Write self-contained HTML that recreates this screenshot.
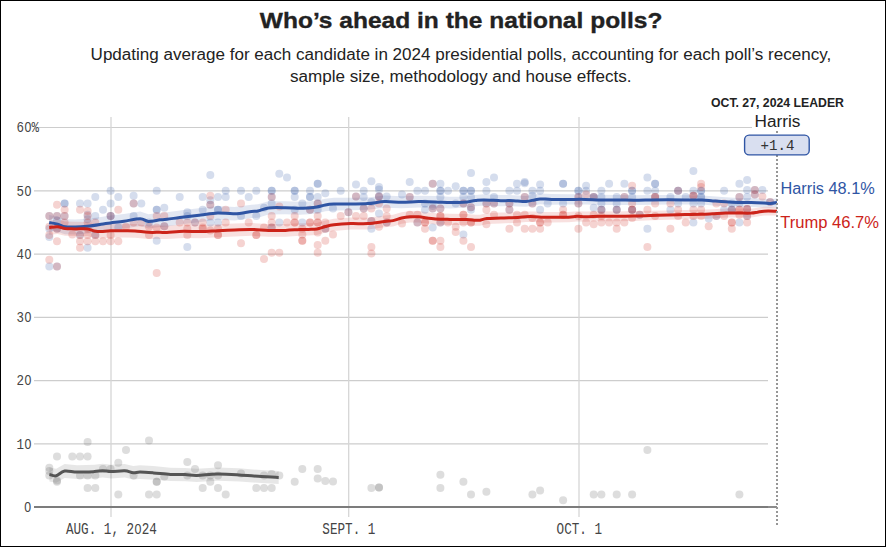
<!DOCTYPE html>
<html lang="en"><head><meta charset="utf-8"><title>Who's ahead in the national polls?</title>
<style>
html,body{margin:0;padding:0;background:#fff;}
body{width:886px;height:547px;overflow:hidden;position:relative;}
svg{position:absolute;left:0;top:0;display:block;}
.frame{position:absolute;left:0;top:0;width:884px;height:545px;border:1px solid #000;pointer-events:none;}
text{font-family:"Liberation Sans",Arial,sans-serif;}
.mono{font-family:"Liberation Mono","DejaVu Sans Mono",monospace;fill:#444;}
</style></head><body>
<svg width="886" height="547" viewBox="0 0 886 547">

<text x="259.8" y="27.8" font-size="22.6" font-weight="700" fill="#222" stroke="#222" stroke-width="0.35" textLength="402.6" lengthAdjust="spacingAndGlyphs">Who’s ahead in the national polls?</text>
<text x="90.6" y="60" font-size="16" fill="#222" textLength="740.6" lengthAdjust="spacingAndGlyphs">Updating average for each candidate in 2024 presidential polls, accounting for each poll’s recency,</text>
<text x="289.9" y="81.5" font-size="16" fill="#222" textLength="341.6" lengthAdjust="spacingAndGlyphs">sample size, methodology and house effects.</text>
<g stroke="#cdcdcd" stroke-width="1.1" fill="none">
<line x1="34" x2="768" y1="443.85" y2="443.85"/>
<line x1="34" x2="768" y1="380.60" y2="380.60"/>
<line x1="34" x2="768" y1="317.35" y2="317.35"/>
<line x1="34" x2="768" y1="254.10" y2="254.10"/>
<line x1="34" x2="768" y1="190.85" y2="190.85"/>
<line x1="39" x2="752" y1="127.5" y2="127.5"/>
</g><g stroke="#d6d6d6" stroke-width="1.3" fill="none">
<line x1="111" x2="111" y1="117" y2="517"/>
<line x1="348.7" x2="348.7" y1="117" y2="517"/>
<line x1="579" x2="579" y1="117" y2="517"/>
</g>
<path d="M49.4,467.4 L56.2,468.8 L64.6,464.0 L77.3,465.2 L94.3,464.7 L102.7,463.8 L111.2,464.7 L124.7,463.9 L133.2,465.9 L140.0,465.3 L153.5,466.1 L170.4,467.7 L185.0,467.9 L196.9,468.7 L217.2,467.5 L239.3,468.3 L261.3,470.1 L278.7,471.0 L278.7,484.0 L261.3,483.1 L239.3,481.5 L217.2,480.7 L196.9,482.1 L185.0,481.3 L170.4,481.1 L153.5,479.7 L140.0,478.9 L133.2,479.5 L124.7,477.5 L111.2,478.5 L102.7,477.6 L94.3,478.5 L77.3,479.0 L64.6,478.0 L56.2,482.8 L49.4,481.4Z" fill="#000" fill-opacity="0.095"/>
<path d="M49.2,214.9 L57.6,216.5 L65.0,219.3 L75.2,219.5 L87.4,218.8 L101.0,216.9 L110.4,215.6 L124.0,213.9 L140.2,211.5 L148.4,214.2 L160.0,212.7 L166.9,212.2 L183.9,210.0 L200.8,208.1 L217.7,206.1 L234.6,207.0 L251.6,204.7 L258.0,204.3 L268.5,201.3 L285.4,201.2 L300.0,201.8 L308.5,201.5 L316.9,200.6 L325.4,198.7 L333.9,197.8 L350.8,197.8 L367.7,197.4 L384.6,195.5 L401.6,196.3 L418.5,195.7 L435.4,196.1 L450.0,196.8 L458.5,196.7 L466.9,196.2 L475.4,194.9 L483.9,194.3 L500.8,195.1 L509.0,195.1 L517.7,195.6 L526.0,196.0 L534.6,194.5 L540.0,193.5 L551.6,194.1 L568.5,194.2 L585.4,194.2 L600.0,194.8 L617.0,194.9 L634.0,195.3 L651.0,195.0 L668.0,194.9 L685.0,195.2 L702.0,195.4 L712.8,196.3 L725.6,197.3 L738.4,197.9 L751.2,198.1 L764.0,198.7 L770.4,199.2 L777.0,198.3 L777.0,206.9 L770.4,207.8 L764.0,207.5 L751.2,206.9 L738.4,206.9 L725.6,206.3 L712.8,205.5 L702.0,204.6 L685.0,204.6 L668.0,204.5 L651.0,204.8 L634.0,205.1 L617.0,204.9 L600.0,205.0 L585.4,204.6 L568.5,204.6 L551.6,204.7 L540.0,204.3 L534.6,205.3 L526.0,206.8 L517.7,206.6 L509.0,206.1 L500.8,206.3 L483.9,205.5 L475.4,206.3 L466.9,207.6 L458.5,208.1 L450.0,208.4 L435.4,207.7 L418.5,207.5 L401.6,208.3 L384.6,207.7 L367.7,209.8 L350.8,210.2 L333.9,210.4 L325.4,211.3 L316.9,213.4 L308.5,214.3 L300.0,214.8 L285.4,214.2 L268.5,214.5 L258.0,217.7 L251.6,218.1 L234.6,220.6 L217.7,219.7 L200.8,221.9 L183.9,224.0 L166.9,226.4 L160.0,226.9 L148.4,228.6 L140.2,225.9 L124.0,228.5 L110.4,230.2 L101.0,231.7 L87.4,233.6 L75.2,234.5 L65.0,234.3 L57.6,231.7 L49.2,230.1Z" fill="#2f55a4" fill-opacity="0.14"/>
<path d="M49.2,220.3 L57.6,219.6 L65.0,221.5 L75.0,221.8 L87.4,221.9 L94.2,223.9 L101.0,224.5 L110.4,223.8 L124.0,223.8 L135.0,224.0 L148.4,225.5 L160.0,225.5 L166.9,225.7 L183.9,224.5 L200.8,225.0 L217.7,224.2 L234.6,223.4 L251.6,223.0 L268.5,224.1 L285.4,224.1 L300.0,223.3 L308.5,223.2 L316.9,222.9 L325.4,220.4 L333.9,218.7 L350.8,217.6 L367.7,217.7 L384.6,215.5 L393.0,214.8 L401.6,212.2 L410.0,211.0 L418.5,211.1 L435.4,213.2 L450.0,213.8 L466.9,213.9 L475.4,214.7 L480.0,214.7 L487.0,213.0 L500.8,212.6 L517.7,212.2 L526.0,211.4 L534.6,211.4 L543.0,212.0 L551.6,212.0 L568.5,212.1 L577.0,211.2 L585.4,211.6 L600.0,211.3 L617.0,211.4 L634.0,211.1 L651.0,210.7 L668.0,210.4 L685.0,209.9 L702.0,209.7 L712.8,209.2 L725.6,208.6 L738.4,208.6 L751.2,208.7 L757.6,207.8 L764.0,206.8 L777.0,206.9 L777.0,215.5 L764.0,215.6 L757.6,216.6 L751.2,217.5 L738.4,217.6 L725.6,217.6 L712.8,218.4 L702.0,218.9 L685.0,219.3 L668.0,219.8 L651.0,220.3 L634.0,220.9 L617.0,221.2 L600.0,221.3 L585.4,221.8 L577.0,221.4 L568.5,222.3 L551.6,222.4 L543.0,222.4 L534.6,222.0 L526.0,222.0 L517.7,222.8 L500.8,223.4 L487.0,224.0 L480.0,225.7 L475.4,225.7 L466.9,224.9 L450.0,225.0 L435.4,224.6 L418.5,222.5 L410.0,222.6 L401.6,223.8 L393.0,226.4 L384.6,227.3 L367.7,229.5 L350.8,229.6 L333.9,230.9 L325.4,232.6 L316.9,235.1 L308.5,235.6 L300.0,235.7 L285.4,236.7 L268.5,236.7 L251.6,235.8 L234.6,236.4 L217.7,237.2 L200.8,238.2 L183.9,237.9 L166.9,239.1 L160.0,239.1 L148.4,239.1 L135.0,237.8 L124.0,237.6 L110.4,237.8 L101.0,238.5 L94.2,237.9 L87.4,235.9 L75.0,236.0 L65.0,235.7 L57.6,234.0 L49.2,234.7Z" fill="#cc2319" fill-opacity="0.14"/>
<g fill="#777" fill-opacity="0.25">
<circle cx="49.3" cy="467.8" r="4"/>
<circle cx="49.3" cy="470.9" r="4"/>
<circle cx="49.3" cy="475.4" r="4"/>
<circle cx="57.0" cy="456.4" r="4"/>
<circle cx="57.0" cy="480.4" r="4"/>
<circle cx="57.0" cy="481.7" r="4"/>
<circle cx="72.3" cy="456.4" r="4"/>
<circle cx="80.0" cy="456.4" r="4"/>
<circle cx="80.0" cy="475.4" r="4"/>
<circle cx="87.6" cy="441.9" r="4"/>
<circle cx="87.6" cy="456.4" r="4"/>
<circle cx="87.6" cy="475.4" r="4"/>
<circle cx="87.6" cy="488.0" r="4"/>
<circle cx="95.3" cy="475.4" r="4"/>
<circle cx="95.3" cy="488.0" r="4"/>
<circle cx="103.0" cy="469.1" r="4"/>
<circle cx="110.6" cy="469.1" r="4"/>
<circle cx="118.3" cy="462.7" r="4"/>
<circle cx="118.3" cy="494.4" r="4"/>
<circle cx="126.0" cy="450.1" r="4"/>
<circle cx="133.6" cy="475.4" r="4"/>
<circle cx="149.0" cy="440.6" r="4"/>
<circle cx="149.0" cy="494.4" r="4"/>
<circle cx="156.7" cy="481.7" r="4"/>
<circle cx="156.7" cy="481.7" r="4"/>
<circle cx="156.7" cy="494.4" r="4"/>
<circle cx="164.3" cy="476.6" r="4"/>
<circle cx="187.3" cy="462.1" r="4"/>
<circle cx="187.3" cy="475.4" r="4"/>
<circle cx="195.0" cy="469.1" r="4"/>
<circle cx="202.7" cy="475.4" r="4"/>
<circle cx="202.7" cy="488.0" r="4"/>
<circle cx="210.3" cy="475.4" r="4"/>
<circle cx="210.3" cy="481.7" r="4"/>
<circle cx="218.0" cy="465.3" r="4"/>
<circle cx="218.0" cy="475.4" r="4"/>
<circle cx="218.0" cy="488.0" r="4"/>
<circle cx="225.7" cy="494.4" r="4"/>
<circle cx="241.0" cy="473.5" r="4"/>
<circle cx="256.3" cy="488.0" r="4"/>
<circle cx="264.0" cy="475.4" r="4"/>
<circle cx="264.0" cy="488.0" r="4"/>
<circle cx="271.7" cy="474.1" r="4"/>
<circle cx="271.7" cy="488.0" r="4"/>
<circle cx="279.3" cy="475.4" r="4"/>
<circle cx="294.7" cy="481.7" r="4"/>
<circle cx="302.3" cy="469.1" r="4"/>
<circle cx="317.7" cy="469.1" r="4"/>
<circle cx="317.7" cy="478.5" r="4"/>
<circle cx="325.3" cy="481.1" r="4"/>
<circle cx="333.0" cy="481.4" r="4"/>
<circle cx="371.4" cy="488.0" r="4"/>
<circle cx="379.0" cy="487.4" r="4"/>
<circle cx="379.0" cy="487.4" r="4"/>
<circle cx="440.4" cy="474.7" r="4"/>
<circle cx="440.4" cy="488.0" r="4"/>
<circle cx="463.4" cy="481.7" r="4"/>
<circle cx="471.0" cy="494.4" r="4"/>
<circle cx="486.4" cy="491.8" r="4"/>
<circle cx="532.4" cy="494.4" r="4"/>
<circle cx="540.1" cy="490.6" r="4"/>
<circle cx="563.1" cy="500.3" r="4"/>
<circle cx="593.7" cy="494.4" r="4"/>
<circle cx="601.4" cy="494.4" r="4"/>
<circle cx="616.7" cy="494.4" r="4"/>
<circle cx="632.1" cy="494.4" r="4"/>
<circle cx="647.4" cy="450.1" r="4"/>
<circle cx="739.4" cy="494.4" r="4"/>
</g>
<g fill="#2f55a4" fill-opacity="0.2">
<circle cx="49.3" cy="216.1" r="4"/>
<circle cx="49.3" cy="228.7" r="4"/>
<circle cx="49.3" cy="236.9" r="4"/>
<circle cx="49.3" cy="266.6" r="4"/>
<circle cx="57.0" cy="216.1" r="4"/>
<circle cx="57.0" cy="220.5" r="4"/>
<circle cx="57.0" cy="228.7" r="4"/>
<circle cx="57.0" cy="266.6" r="4"/>
<circle cx="64.6" cy="203.4" r="4"/>
<circle cx="64.6" cy="203.4" r="4"/>
<circle cx="64.6" cy="216.1" r="4"/>
<circle cx="80.0" cy="203.4" r="4"/>
<circle cx="80.0" cy="235.0" r="4"/>
<circle cx="87.6" cy="203.4" r="4"/>
<circle cx="87.6" cy="214.8" r="4"/>
<circle cx="87.6" cy="219.2" r="4"/>
<circle cx="87.6" cy="247.7" r="4"/>
<circle cx="95.3" cy="197.1" r="4"/>
<circle cx="95.3" cy="216.1" r="4"/>
<circle cx="95.3" cy="235.0" r="4"/>
<circle cx="103.0" cy="209.7" r="4"/>
<circle cx="110.6" cy="190.8" r="4"/>
<circle cx="110.6" cy="203.4" r="4"/>
<circle cx="110.6" cy="216.1" r="4"/>
<circle cx="110.6" cy="216.1" r="4"/>
<circle cx="118.3" cy="197.1" r="4"/>
<circle cx="118.3" cy="227.4" r="4"/>
<circle cx="133.6" cy="195.8" r="4"/>
<circle cx="133.6" cy="203.4" r="4"/>
<circle cx="133.6" cy="216.1" r="4"/>
<circle cx="141.3" cy="203.4" r="4"/>
<circle cx="149.0" cy="222.4" r="4"/>
<circle cx="156.7" cy="190.8" r="4"/>
<circle cx="156.7" cy="209.7" r="4"/>
<circle cx="156.7" cy="209.7" r="4"/>
<circle cx="156.7" cy="240.7" r="4"/>
<circle cx="164.3" cy="207.8" r="4"/>
<circle cx="164.3" cy="226.2" r="4"/>
<circle cx="179.7" cy="197.1" r="4"/>
<circle cx="187.3" cy="212.3" r="4"/>
<circle cx="187.3" cy="216.1" r="4"/>
<circle cx="187.3" cy="247.0" r="4"/>
<circle cx="195.0" cy="222.4" r="4"/>
<circle cx="202.7" cy="197.1" r="4"/>
<circle cx="202.7" cy="209.7" r="4"/>
<circle cx="210.3" cy="174.9" r="4"/>
<circle cx="210.3" cy="200.2" r="4"/>
<circle cx="210.3" cy="204.7" r="4"/>
<circle cx="210.3" cy="222.4" r="4"/>
<circle cx="218.0" cy="197.1" r="4"/>
<circle cx="218.0" cy="209.7" r="4"/>
<circle cx="218.0" cy="209.7" r="4"/>
<circle cx="218.0" cy="222.4" r="4"/>
<circle cx="225.7" cy="190.8" r="4"/>
<circle cx="225.7" cy="197.1" r="4"/>
<circle cx="241.0" cy="190.8" r="4"/>
<circle cx="241.0" cy="216.1" r="4"/>
<circle cx="248.7" cy="197.1" r="4"/>
<circle cx="256.3" cy="190.8" r="4"/>
<circle cx="256.3" cy="216.1" r="4"/>
<circle cx="264.0" cy="207.8" r="4"/>
<circle cx="271.7" cy="190.8" r="4"/>
<circle cx="271.7" cy="190.8" r="4"/>
<circle cx="271.7" cy="197.1" r="4"/>
<circle cx="271.7" cy="203.4" r="4"/>
<circle cx="271.7" cy="227.4" r="4"/>
<circle cx="279.3" cy="173.7" r="4"/>
<circle cx="279.3" cy="222.4" r="4"/>
<circle cx="287.0" cy="177.5" r="4"/>
<circle cx="294.7" cy="190.8" r="4"/>
<circle cx="294.7" cy="190.8" r="4"/>
<circle cx="294.7" cy="197.1" r="4"/>
<circle cx="294.7" cy="209.7" r="4"/>
<circle cx="302.3" cy="203.4" r="4"/>
<circle cx="302.3" cy="222.4" r="4"/>
<circle cx="310.0" cy="190.8" r="4"/>
<circle cx="310.0" cy="197.1" r="4"/>
<circle cx="310.0" cy="197.1" r="4"/>
<circle cx="310.0" cy="209.7" r="4"/>
<circle cx="317.7" cy="183.8" r="4"/>
<circle cx="317.7" cy="183.8" r="4"/>
<circle cx="317.7" cy="197.1" r="4"/>
<circle cx="317.7" cy="203.4" r="4"/>
<circle cx="317.7" cy="209.7" r="4"/>
<circle cx="325.3" cy="193.3" r="4"/>
<circle cx="325.3" cy="228.7" r="4"/>
<circle cx="333.0" cy="208.5" r="4"/>
<circle cx="340.7" cy="190.8" r="4"/>
<circle cx="348.4" cy="212.3" r="4"/>
<circle cx="356.0" cy="184.4" r="4"/>
<circle cx="356.0" cy="196.4" r="4"/>
<circle cx="363.7" cy="190.8" r="4"/>
<circle cx="363.7" cy="197.1" r="4"/>
<circle cx="363.7" cy="208.5" r="4"/>
<circle cx="371.4" cy="181.3" r="4"/>
<circle cx="371.4" cy="202.1" r="4"/>
<circle cx="371.4" cy="221.1" r="4"/>
<circle cx="371.4" cy="228.7" r="4"/>
<circle cx="379.0" cy="187.0" r="4"/>
<circle cx="379.0" cy="189.5" r="4"/>
<circle cx="379.0" cy="196.4" r="4"/>
<circle cx="379.0" cy="196.4" r="4"/>
<circle cx="379.0" cy="213.5" r="4"/>
<circle cx="386.7" cy="196.4" r="4"/>
<circle cx="386.7" cy="222.4" r="4"/>
<circle cx="402.0" cy="194.5" r="4"/>
<circle cx="409.7" cy="181.9" r="4"/>
<circle cx="409.7" cy="197.1" r="4"/>
<circle cx="417.4" cy="190.8" r="4"/>
<circle cx="417.4" cy="222.4" r="4"/>
<circle cx="425.0" cy="190.8" r="4"/>
<circle cx="425.0" cy="203.4" r="4"/>
<circle cx="425.0" cy="209.7" r="4"/>
<circle cx="432.7" cy="183.8" r="4"/>
<circle cx="432.7" cy="205.9" r="4"/>
<circle cx="432.7" cy="208.5" r="4"/>
<circle cx="432.7" cy="227.4" r="4"/>
<circle cx="440.4" cy="183.8" r="4"/>
<circle cx="440.4" cy="190.8" r="4"/>
<circle cx="440.4" cy="190.8" r="4"/>
<circle cx="440.4" cy="197.1" r="4"/>
<circle cx="440.4" cy="208.5" r="4"/>
<circle cx="440.4" cy="222.4" r="4"/>
<circle cx="448.0" cy="190.8" r="4"/>
<circle cx="455.7" cy="186.3" r="4"/>
<circle cx="455.7" cy="203.4" r="4"/>
<circle cx="463.4" cy="190.8" r="4"/>
<circle cx="463.4" cy="190.8" r="4"/>
<circle cx="463.4" cy="197.1" r="4"/>
<circle cx="463.4" cy="203.4" r="4"/>
<circle cx="463.4" cy="234.4" r="4"/>
<circle cx="471.0" cy="173.0" r="4"/>
<circle cx="471.0" cy="190.8" r="4"/>
<circle cx="471.0" cy="190.8" r="4"/>
<circle cx="471.0" cy="197.1" r="4"/>
<circle cx="471.0" cy="207.2" r="4"/>
<circle cx="471.0" cy="209.7" r="4"/>
<circle cx="486.4" cy="181.9" r="4"/>
<circle cx="486.4" cy="190.8" r="4"/>
<circle cx="486.4" cy="203.4" r="4"/>
<circle cx="494.0" cy="177.5" r="4"/>
<circle cx="494.0" cy="197.1" r="4"/>
<circle cx="494.0" cy="203.4" r="4"/>
<circle cx="509.4" cy="190.8" r="4"/>
<circle cx="509.4" cy="203.4" r="4"/>
<circle cx="509.4" cy="209.7" r="4"/>
<circle cx="517.0" cy="183.8" r="4"/>
<circle cx="517.0" cy="190.8" r="4"/>
<circle cx="524.7" cy="181.9" r="4"/>
<circle cx="524.7" cy="183.2" r="4"/>
<circle cx="524.7" cy="197.1" r="4"/>
<circle cx="532.4" cy="190.8" r="4"/>
<circle cx="532.4" cy="195.8" r="4"/>
<circle cx="532.4" cy="203.4" r="4"/>
<circle cx="540.1" cy="184.4" r="4"/>
<circle cx="540.1" cy="190.8" r="4"/>
<circle cx="540.1" cy="209.7" r="4"/>
<circle cx="547.7" cy="203.4" r="4"/>
<circle cx="563.1" cy="183.8" r="4"/>
<circle cx="563.1" cy="183.8" r="4"/>
<circle cx="563.1" cy="203.4" r="4"/>
<circle cx="578.4" cy="190.8" r="4"/>
<circle cx="578.4" cy="190.8" r="4"/>
<circle cx="578.4" cy="197.1" r="4"/>
<circle cx="578.4" cy="203.4" r="4"/>
<circle cx="586.1" cy="185.7" r="4"/>
<circle cx="586.1" cy="190.8" r="4"/>
<circle cx="593.7" cy="197.1" r="4"/>
<circle cx="593.7" cy="197.1" r="4"/>
<circle cx="593.7" cy="207.8" r="4"/>
<circle cx="601.4" cy="190.8" r="4"/>
<circle cx="601.4" cy="197.1" r="4"/>
<circle cx="601.4" cy="203.4" r="4"/>
<circle cx="601.4" cy="209.7" r="4"/>
<circle cx="601.4" cy="209.7" r="4"/>
<circle cx="609.1" cy="183.8" r="4"/>
<circle cx="616.7" cy="197.1" r="4"/>
<circle cx="616.7" cy="203.4" r="4"/>
<circle cx="616.7" cy="209.7" r="4"/>
<circle cx="616.7" cy="209.7" r="4"/>
<circle cx="624.4" cy="183.8" r="4"/>
<circle cx="624.4" cy="197.1" r="4"/>
<circle cx="632.1" cy="190.8" r="4"/>
<circle cx="632.1" cy="190.8" r="4"/>
<circle cx="632.1" cy="197.1" r="4"/>
<circle cx="632.1" cy="209.7" r="4"/>
<circle cx="632.1" cy="209.7" r="4"/>
<circle cx="639.7" cy="214.8" r="4"/>
<circle cx="647.4" cy="177.5" r="4"/>
<circle cx="647.4" cy="190.8" r="4"/>
<circle cx="647.4" cy="228.7" r="4"/>
<circle cx="655.1" cy="183.8" r="4"/>
<circle cx="655.1" cy="183.8" r="4"/>
<circle cx="655.1" cy="190.8" r="4"/>
<circle cx="655.1" cy="197.1" r="4"/>
<circle cx="670.4" cy="197.1" r="4"/>
<circle cx="670.4" cy="209.7" r="4"/>
<circle cx="678.1" cy="190.8" r="4"/>
<circle cx="678.1" cy="190.8" r="4"/>
<circle cx="678.1" cy="203.4" r="4"/>
<circle cx="685.7" cy="197.1" r="4"/>
<circle cx="693.4" cy="171.1" r="4"/>
<circle cx="693.4" cy="190.8" r="4"/>
<circle cx="693.4" cy="195.8" r="4"/>
<circle cx="693.4" cy="203.4" r="4"/>
<circle cx="693.4" cy="222.4" r="4"/>
<circle cx="701.1" cy="190.8" r="4"/>
<circle cx="701.1" cy="190.8" r="4"/>
<circle cx="701.1" cy="197.1" r="4"/>
<circle cx="701.1" cy="197.1" r="4"/>
<circle cx="701.1" cy="203.4" r="4"/>
<circle cx="708.7" cy="218.6" r="4"/>
<circle cx="716.4" cy="216.1" r="4"/>
<circle cx="724.1" cy="190.8" r="4"/>
<circle cx="724.1" cy="209.7" r="4"/>
<circle cx="731.8" cy="203.4" r="4"/>
<circle cx="731.8" cy="209.7" r="4"/>
<circle cx="731.8" cy="209.7" r="4"/>
<circle cx="739.4" cy="183.8" r="4"/>
<circle cx="739.4" cy="197.1" r="4"/>
<circle cx="739.4" cy="203.4" r="4"/>
<circle cx="739.4" cy="222.4" r="4"/>
<circle cx="747.1" cy="180.0" r="4"/>
<circle cx="747.1" cy="190.1" r="4"/>
<circle cx="747.1" cy="197.1" r="4"/>
<circle cx="747.1" cy="209.1" r="4"/>
<circle cx="747.1" cy="216.1" r="4"/>
<circle cx="754.8" cy="190.1" r="4"/>
<circle cx="754.8" cy="194.5" r="4"/>
<circle cx="762.4" cy="190.1" r="4"/>
<circle cx="770.1" cy="202.1" r="4"/>
</g>
<g fill="#cc2319" fill-opacity="0.2">
<circle cx="49.3" cy="216.1" r="4"/>
<circle cx="49.3" cy="226.8" r="4"/>
<circle cx="49.3" cy="235.0" r="4"/>
<circle cx="49.3" cy="259.7" r="4"/>
<circle cx="57.0" cy="204.7" r="4"/>
<circle cx="57.0" cy="216.1" r="4"/>
<circle cx="57.0" cy="228.7" r="4"/>
<circle cx="57.0" cy="241.3" r="4"/>
<circle cx="57.0" cy="266.6" r="4"/>
<circle cx="64.6" cy="209.7" r="4"/>
<circle cx="64.6" cy="216.1" r="4"/>
<circle cx="64.6" cy="222.4" r="4"/>
<circle cx="72.3" cy="234.4" r="4"/>
<circle cx="80.0" cy="209.7" r="4"/>
<circle cx="80.0" cy="235.0" r="4"/>
<circle cx="80.0" cy="241.3" r="4"/>
<circle cx="80.0" cy="247.7" r="4"/>
<circle cx="87.6" cy="211.0" r="4"/>
<circle cx="87.6" cy="216.1" r="4"/>
<circle cx="87.6" cy="222.4" r="4"/>
<circle cx="87.6" cy="228.7" r="4"/>
<circle cx="87.6" cy="235.0" r="4"/>
<circle cx="87.6" cy="241.3" r="4"/>
<circle cx="95.3" cy="222.4" r="4"/>
<circle cx="95.3" cy="235.0" r="4"/>
<circle cx="95.3" cy="241.3" r="4"/>
<circle cx="103.0" cy="241.3" r="4"/>
<circle cx="110.6" cy="216.1" r="4"/>
<circle cx="110.6" cy="235.0" r="4"/>
<circle cx="110.6" cy="241.3" r="4"/>
<circle cx="118.3" cy="209.7" r="4"/>
<circle cx="118.3" cy="241.3" r="4"/>
<circle cx="126.0" cy="226.8" r="4"/>
<circle cx="133.6" cy="203.4" r="4"/>
<circle cx="133.6" cy="222.4" r="4"/>
<circle cx="141.3" cy="222.4" r="4"/>
<circle cx="149.0" cy="226.8" r="4"/>
<circle cx="149.0" cy="235.0" r="4"/>
<circle cx="156.7" cy="216.1" r="4"/>
<circle cx="156.7" cy="227.4" r="4"/>
<circle cx="156.7" cy="273.0" r="4"/>
<circle cx="164.3" cy="216.1" r="4"/>
<circle cx="164.3" cy="226.2" r="4"/>
<circle cx="179.7" cy="222.4" r="4"/>
<circle cx="187.3" cy="222.4" r="4"/>
<circle cx="187.3" cy="228.7" r="4"/>
<circle cx="187.3" cy="235.0" r="4"/>
<circle cx="195.0" cy="222.4" r="4"/>
<circle cx="202.7" cy="222.4" r="4"/>
<circle cx="202.7" cy="227.4" r="4"/>
<circle cx="202.7" cy="228.7" r="4"/>
<circle cx="210.3" cy="195.8" r="4"/>
<circle cx="210.3" cy="204.7" r="4"/>
<circle cx="210.3" cy="216.1" r="4"/>
<circle cx="210.3" cy="230.6" r="4"/>
<circle cx="218.0" cy="228.7" r="4"/>
<circle cx="218.0" cy="235.0" r="4"/>
<circle cx="218.0" cy="235.0" r="4"/>
<circle cx="225.7" cy="209.7" r="4"/>
<circle cx="225.7" cy="222.4" r="4"/>
<circle cx="241.0" cy="203.4" r="4"/>
<circle cx="241.0" cy="243.2" r="4"/>
<circle cx="248.7" cy="222.4" r="4"/>
<circle cx="256.3" cy="235.0" r="4"/>
<circle cx="256.3" cy="235.0" r="4"/>
<circle cx="264.0" cy="227.4" r="4"/>
<circle cx="264.0" cy="259.1" r="4"/>
<circle cx="271.7" cy="197.1" r="4"/>
<circle cx="271.7" cy="216.1" r="4"/>
<circle cx="271.7" cy="222.4" r="4"/>
<circle cx="271.7" cy="227.4" r="4"/>
<circle cx="271.7" cy="252.7" r="4"/>
<circle cx="279.3" cy="206.6" r="4"/>
<circle cx="279.3" cy="252.7" r="4"/>
<circle cx="287.0" cy="222.4" r="4"/>
<circle cx="294.7" cy="216.1" r="4"/>
<circle cx="294.7" cy="222.4" r="4"/>
<circle cx="294.7" cy="222.4" r="4"/>
<circle cx="302.3" cy="228.7" r="4"/>
<circle cx="302.3" cy="234.4" r="4"/>
<circle cx="302.3" cy="240.7" r="4"/>
<circle cx="302.3" cy="240.7" r="4"/>
<circle cx="310.0" cy="209.7" r="4"/>
<circle cx="310.0" cy="222.4" r="4"/>
<circle cx="310.0" cy="222.4" r="4"/>
<circle cx="317.7" cy="203.4" r="4"/>
<circle cx="317.7" cy="216.1" r="4"/>
<circle cx="317.7" cy="222.4" r="4"/>
<circle cx="317.7" cy="222.4" r="4"/>
<circle cx="317.7" cy="232.5" r="4"/>
<circle cx="317.7" cy="245.1" r="4"/>
<circle cx="317.7" cy="252.7" r="4"/>
<circle cx="325.3" cy="222.4" r="4"/>
<circle cx="325.3" cy="228.7" r="4"/>
<circle cx="325.3" cy="240.7" r="4"/>
<circle cx="333.0" cy="234.4" r="4"/>
<circle cx="340.7" cy="216.1" r="4"/>
<circle cx="348.4" cy="212.3" r="4"/>
<circle cx="356.0" cy="196.4" r="4"/>
<circle cx="356.0" cy="216.1" r="4"/>
<circle cx="363.7" cy="208.5" r="4"/>
<circle cx="363.7" cy="216.1" r="4"/>
<circle cx="371.4" cy="208.5" r="4"/>
<circle cx="371.4" cy="221.1" r="4"/>
<circle cx="371.4" cy="247.0" r="4"/>
<circle cx="371.4" cy="253.4" r="4"/>
<circle cx="379.0" cy="196.4" r="4"/>
<circle cx="379.0" cy="203.4" r="4"/>
<circle cx="379.0" cy="226.8" r="4"/>
<circle cx="386.7" cy="208.5" r="4"/>
<circle cx="386.7" cy="216.1" r="4"/>
<circle cx="386.7" cy="222.4" r="4"/>
<circle cx="402.0" cy="223.6" r="4"/>
<circle cx="409.7" cy="197.1" r="4"/>
<circle cx="409.7" cy="214.8" r="4"/>
<circle cx="417.4" cy="214.8" r="4"/>
<circle cx="417.4" cy="222.4" r="4"/>
<circle cx="425.0" cy="222.4" r="4"/>
<circle cx="425.0" cy="222.4" r="4"/>
<circle cx="425.0" cy="228.7" r="4"/>
<circle cx="432.7" cy="183.8" r="4"/>
<circle cx="432.7" cy="208.5" r="4"/>
<circle cx="432.7" cy="240.7" r="4"/>
<circle cx="432.7" cy="240.7" r="4"/>
<circle cx="440.4" cy="208.5" r="4"/>
<circle cx="440.4" cy="216.1" r="4"/>
<circle cx="440.4" cy="216.1" r="4"/>
<circle cx="440.4" cy="222.4" r="4"/>
<circle cx="440.4" cy="240.7" r="4"/>
<circle cx="440.4" cy="247.0" r="4"/>
<circle cx="448.0" cy="222.4" r="4"/>
<circle cx="455.7" cy="226.8" r="4"/>
<circle cx="455.7" cy="231.9" r="4"/>
<circle cx="463.4" cy="203.4" r="4"/>
<circle cx="463.4" cy="214.8" r="4"/>
<circle cx="463.4" cy="214.8" r="4"/>
<circle cx="463.4" cy="222.4" r="4"/>
<circle cx="463.4" cy="240.7" r="4"/>
<circle cx="471.0" cy="207.2" r="4"/>
<circle cx="471.0" cy="222.4" r="4"/>
<circle cx="471.0" cy="222.4" r="4"/>
<circle cx="471.0" cy="247.0" r="4"/>
<circle cx="486.4" cy="203.4" r="4"/>
<circle cx="486.4" cy="209.7" r="4"/>
<circle cx="486.4" cy="224.3" r="4"/>
<circle cx="494.0" cy="203.4" r="4"/>
<circle cx="494.0" cy="214.8" r="4"/>
<circle cx="509.4" cy="203.4" r="4"/>
<circle cx="509.4" cy="209.7" r="4"/>
<circle cx="509.4" cy="228.7" r="4"/>
<circle cx="517.0" cy="214.8" r="4"/>
<circle cx="517.0" cy="222.4" r="4"/>
<circle cx="524.7" cy="197.1" r="4"/>
<circle cx="524.7" cy="214.8" r="4"/>
<circle cx="524.7" cy="228.7" r="4"/>
<circle cx="532.4" cy="203.4" r="4"/>
<circle cx="532.4" cy="217.9" r="4"/>
<circle cx="532.4" cy="228.7" r="4"/>
<circle cx="540.1" cy="222.4" r="4"/>
<circle cx="540.1" cy="222.4" r="4"/>
<circle cx="540.1" cy="228.7" r="4"/>
<circle cx="547.7" cy="222.4" r="4"/>
<circle cx="563.1" cy="209.7" r="4"/>
<circle cx="563.1" cy="214.8" r="4"/>
<circle cx="563.1" cy="214.8" r="4"/>
<circle cx="578.4" cy="197.1" r="4"/>
<circle cx="578.4" cy="203.4" r="4"/>
<circle cx="578.4" cy="216.1" r="4"/>
<circle cx="578.4" cy="228.7" r="4"/>
<circle cx="586.1" cy="194.5" r="4"/>
<circle cx="586.1" cy="222.4" r="4"/>
<circle cx="593.7" cy="197.1" r="4"/>
<circle cx="593.7" cy="214.8" r="4"/>
<circle cx="593.7" cy="224.3" r="4"/>
<circle cx="601.4" cy="209.7" r="4"/>
<circle cx="601.4" cy="216.1" r="4"/>
<circle cx="601.4" cy="222.4" r="4"/>
<circle cx="609.1" cy="222.4" r="4"/>
<circle cx="616.7" cy="209.7" r="4"/>
<circle cx="616.7" cy="222.4" r="4"/>
<circle cx="616.7" cy="228.7" r="4"/>
<circle cx="624.4" cy="197.1" r="4"/>
<circle cx="624.4" cy="222.4" r="4"/>
<circle cx="632.1" cy="185.7" r="4"/>
<circle cx="632.1" cy="203.4" r="4"/>
<circle cx="632.1" cy="209.7" r="4"/>
<circle cx="632.1" cy="209.7" r="4"/>
<circle cx="632.1" cy="217.9" r="4"/>
<circle cx="639.7" cy="214.8" r="4"/>
<circle cx="647.4" cy="209.7" r="4"/>
<circle cx="647.4" cy="247.0" r="4"/>
<circle cx="655.1" cy="197.1" r="4"/>
<circle cx="655.1" cy="197.1" r="4"/>
<circle cx="655.1" cy="203.4" r="4"/>
<circle cx="655.1" cy="216.1" r="4"/>
<circle cx="670.4" cy="203.4" r="4"/>
<circle cx="670.4" cy="228.7" r="4"/>
<circle cx="678.1" cy="190.8" r="4"/>
<circle cx="678.1" cy="209.7" r="4"/>
<circle cx="678.1" cy="216.1" r="4"/>
<circle cx="685.7" cy="222.4" r="4"/>
<circle cx="693.4" cy="195.8" r="4"/>
<circle cx="693.4" cy="195.8" r="4"/>
<circle cx="693.4" cy="209.7" r="4"/>
<circle cx="693.4" cy="216.1" r="4"/>
<circle cx="701.1" cy="183.8" r="4"/>
<circle cx="701.1" cy="187.0" r="4"/>
<circle cx="701.1" cy="209.7" r="4"/>
<circle cx="701.1" cy="216.1" r="4"/>
<circle cx="708.7" cy="226.2" r="4"/>
<circle cx="716.4" cy="203.4" r="4"/>
<circle cx="716.4" cy="216.1" r="4"/>
<circle cx="724.1" cy="203.4" r="4"/>
<circle cx="724.1" cy="216.1" r="4"/>
<circle cx="731.8" cy="209.7" r="4"/>
<circle cx="731.8" cy="222.4" r="4"/>
<circle cx="731.8" cy="222.4" r="4"/>
<circle cx="731.8" cy="228.7" r="4"/>
<circle cx="739.4" cy="197.1" r="4"/>
<circle cx="739.4" cy="209.7" r="4"/>
<circle cx="739.4" cy="209.7" r="4"/>
<circle cx="739.4" cy="214.8" r="4"/>
<circle cx="747.1" cy="209.1" r="4"/>
<circle cx="747.1" cy="209.1" r="4"/>
<circle cx="747.1" cy="216.1" r="4"/>
<circle cx="747.1" cy="222.4" r="4"/>
<circle cx="754.8" cy="190.1" r="4"/>
<circle cx="754.8" cy="194.5" r="4"/>
<circle cx="762.4" cy="196.4" r="4"/>
<circle cx="770.1" cy="202.1" r="4"/>
</g>
<line x1="34" x2="768" y1="507" y2="507" stroke="#7c7c7c" stroke-width="2"/>
<line x1="768" x2="777" y1="507" y2="507" stroke="#8c8c8c" stroke-width="2"/>
<path d="M49.4,474.4 C50.5,474.6 53.7,476.4 56.2,475.8 C58.7,475.2 61.1,471.6 64.6,471.0 C68.1,470.4 72.3,472.0 77.3,472.1 C82.2,472.2 90.1,471.8 94.3,471.6 C98.5,471.4 99.9,470.7 102.7,470.7 C105.5,470.7 107.5,471.6 111.2,471.6 C114.9,471.6 121.0,470.5 124.7,470.7 C128.4,470.9 130.6,472.5 133.2,472.7 C135.8,472.9 136.6,472.1 140.0,472.1 C143.4,472.1 148.4,472.5 153.5,472.9 C158.6,473.3 165.2,474.1 170.4,474.4 C175.7,474.7 180.6,474.4 185.0,474.6 C189.4,474.8 191.5,475.5 196.9,475.4 C202.3,475.3 210.1,474.2 217.2,474.1 C224.3,474.0 232.0,474.5 239.3,474.9 C246.7,475.3 254.7,476.2 261.3,476.6 C267.9,477.0 275.8,477.4 278.7,477.5" fill="none" stroke="#555555" stroke-width="3" stroke-linejoin="round" stroke-linecap="butt"/>
<path d="M49.2,222.5 C50.6,222.8 55.0,223.4 57.6,224.1 C60.2,224.8 62.1,226.3 65.0,226.8 C67.9,227.3 71.5,227.1 75.2,227.0 C78.9,226.9 83.1,226.6 87.4,226.2 C91.7,225.8 97.2,224.9 101.0,224.3 C104.8,223.8 106.6,223.4 110.4,222.9 C114.2,222.4 119.0,221.9 124.0,221.2 C129.0,220.5 136.1,218.7 140.2,218.7 C144.3,218.7 145.1,221.2 148.4,221.4 C151.7,221.6 156.9,220.2 160.0,219.8 C163.1,219.5 162.9,219.8 166.9,219.3 C170.9,218.8 178.2,217.7 183.9,217.0 C189.6,216.3 195.2,215.7 200.8,215.0 C206.4,214.3 212.1,213.1 217.7,212.9 C223.3,212.7 228.9,214.1 234.6,213.8 C240.2,213.6 247.7,211.9 251.6,211.4 C255.5,210.9 255.2,211.6 258.0,211.0 C260.8,210.4 263.9,208.5 268.5,207.9 C273.1,207.3 280.1,207.6 285.4,207.7 C290.6,207.8 296.1,208.3 300.0,208.3 C303.9,208.3 305.7,208.1 308.5,207.9 C311.3,207.7 314.1,207.5 316.9,207.0 C319.7,206.5 322.6,205.5 325.4,205.0 C328.2,204.5 329.7,204.3 333.9,204.1 C338.1,203.9 345.2,204.1 350.8,204.0 C356.4,203.9 362.1,204.0 367.7,203.6 C373.3,203.2 379.0,201.8 384.6,201.6 C390.2,201.4 396.0,202.3 401.6,202.3 C407.2,202.3 412.9,201.7 418.5,201.6 C424.1,201.5 430.1,201.7 435.4,201.9 C440.6,202.1 446.1,202.5 450.0,202.6 C453.9,202.7 455.7,202.5 458.5,202.4 C461.3,202.3 464.1,202.2 466.9,201.9 C469.7,201.6 472.6,200.9 475.4,200.6 C478.2,200.3 479.7,199.9 483.9,199.9 C488.1,199.9 496.6,200.6 500.8,200.7 C505.0,200.8 506.2,200.5 509.0,200.6 C511.8,200.7 514.9,201.0 517.7,201.1 C520.5,201.2 523.2,201.6 526.0,201.4 C528.8,201.2 532.3,200.3 534.6,199.9 C536.9,199.5 537.2,199.0 540.0,198.9 C542.8,198.8 546.9,199.3 551.6,199.4 C556.4,199.5 562.9,199.4 568.5,199.4 C574.1,199.4 580.1,199.3 585.4,199.4 C590.6,199.5 594.7,199.8 600.0,199.9 C605.3,200.0 611.3,199.9 617.0,199.9 C622.7,199.9 628.3,200.2 634.0,200.2 C639.7,200.2 645.3,200.0 651.0,199.9 C656.7,199.8 662.3,199.7 668.0,199.7 C673.7,199.7 679.3,199.8 685.0,199.9 C690.7,200.0 697.4,199.8 702.0,200.0 C706.6,200.2 708.9,200.6 712.8,200.9 C716.7,201.2 721.3,201.6 725.6,201.8 C729.9,202.1 734.1,202.3 738.4,202.4 C742.7,202.5 746.9,202.4 751.2,202.5 C755.5,202.6 760.8,202.9 764.0,203.1 C767.2,203.3 768.2,203.6 770.4,203.5 C772.6,203.4 775.9,202.8 777.0,202.6" fill="none" stroke="#2f55a4" stroke-width="3" stroke-linejoin="round"/>
<path d="M49.2,227.5 C50.6,227.4 55.0,226.6 57.6,226.8 C60.2,227.0 62.1,228.2 65.0,228.6 C67.9,228.9 71.3,228.8 75.0,228.9 C78.7,229.0 84.2,228.6 87.4,228.9 C90.6,229.2 91.9,230.5 94.2,230.9 C96.5,231.3 98.3,231.5 101.0,231.5 C103.7,231.5 106.6,230.9 110.4,230.8 C114.2,230.7 119.9,230.7 124.0,230.7 C128.1,230.7 130.9,230.6 135.0,230.9 C139.1,231.2 144.2,232.1 148.4,232.3 C152.6,232.5 156.9,232.3 160.0,232.3 C163.1,232.3 162.9,232.6 166.9,232.4 C170.9,232.2 178.2,231.3 183.9,231.2 C189.6,231.1 195.2,231.7 200.8,231.6 C206.4,231.5 212.1,231.0 217.7,230.7 C223.3,230.4 228.9,230.1 234.6,229.9 C240.2,229.7 245.9,229.3 251.6,229.4 C257.2,229.5 262.9,230.2 268.5,230.4 C274.1,230.6 280.1,230.6 285.4,230.4 C290.6,230.2 296.1,229.7 300.0,229.5 C303.9,229.3 305.7,229.5 308.5,229.4 C311.3,229.3 314.1,229.5 316.9,229.0 C319.7,228.5 322.6,227.2 325.4,226.5 C328.2,225.8 329.7,225.3 333.9,224.8 C338.1,224.3 345.2,223.8 350.8,223.6 C356.4,223.4 362.1,224.0 367.7,223.6 C373.3,223.2 380.4,221.9 384.6,221.4 C388.8,220.9 390.2,221.2 393.0,220.6 C395.8,220.0 398.8,218.6 401.6,218.0 C404.4,217.4 407.2,217.0 410.0,216.8 C412.8,216.6 414.3,216.5 418.5,216.8 C422.7,217.2 430.1,218.5 435.4,218.9 C440.6,219.3 444.8,219.3 450.0,219.4 C455.2,219.5 462.7,219.3 466.9,219.4 C471.1,219.5 473.2,220.1 475.4,220.2 C477.6,220.3 478.1,220.5 480.0,220.2 C481.9,219.9 483.5,218.9 487.0,218.5 C490.5,218.1 495.7,218.2 500.8,218.0 C505.9,217.8 513.5,217.7 517.7,217.5 C521.9,217.3 523.2,216.8 526.0,216.7 C528.8,216.6 531.8,216.6 534.6,216.7 C537.4,216.8 540.2,217.1 543.0,217.2 C545.8,217.3 547.4,217.2 551.6,217.2 C555.9,217.2 564.3,217.3 568.5,217.2 C572.7,217.0 574.2,216.4 577.0,216.3 C579.8,216.2 581.6,216.7 585.4,216.7 C589.2,216.7 594.7,216.4 600.0,216.3 C605.3,216.2 611.3,216.4 617.0,216.3 C622.7,216.2 628.3,216.1 634.0,216.0 C639.7,215.9 645.3,215.7 651.0,215.5 C656.7,215.3 662.3,215.2 668.0,215.1 C673.7,214.9 679.3,214.7 685.0,214.6 C690.7,214.5 697.4,214.4 702.0,214.3 C706.6,214.2 708.9,214.0 712.8,213.8 C716.7,213.6 721.3,213.2 725.6,213.1 C729.9,213.0 734.1,213.1 738.4,213.1 C742.7,213.1 748.0,213.2 751.2,213.1 C754.4,212.9 755.5,212.5 757.6,212.2 C759.7,211.9 760.8,211.4 764.0,211.2 C767.2,211.0 774.8,211.2 777.0,211.2" fill="none" stroke="#cc2319" stroke-width="3" stroke-linejoin="round"/>
<line x1="777" x2="777" y1="131" y2="525" stroke="#969696" stroke-width="2" stroke-dasharray="2 2"/>
<rect x="744.6" y="135.1" width="64.6" height="19.8" rx="4.5" fill="#d9dff0" stroke="#2f55a4" stroke-width="1.4"/>
<text class="mono" transform="translate(760.40 150.40) scale(0.9320 1)" x="0.00 9.12 18.24 27.36" font-size="15.2" style="fill:#333">+1.4</text>
<text x="711" y="106.6" font-size="12" font-weight="700" fill="#222" textLength="133" lengthAdjust="spacingAndGlyphs">OCT. 27, 2024 LEADER</text>
<text x="754.6" y="126.6" font-size="16" fill="#222" textLength="45.8" lengthAdjust="spacingAndGlyphs">Harris</text>
<text x="780.5" y="193.8" font-size="16" fill="#2f55a4" textLength="94.2" lengthAdjust="spacingAndGlyphs">Harris 48.1%</text>
<text x="780.2" y="228" font-size="16" fill="#cc2319" textLength="98.8" lengthAdjust="spacingAndGlyphs">Trump 46.7%</text>
<text class="mono" transform="translate(16.60 132.40) scale(0.8065 1)" x="0.00 9.71 18.60" font-size="15.5" style="fill:#444">6<tspan font-family="Liberation Sans" font-size="15.27">0</tspan>%</text>
<text class="mono" transform="translate(16.60 195.65) scale(0.8065 1)" x="0.00 9.71" font-size="15.5" style="fill:#444">5<tspan font-family="Liberation Sans" font-size="15.27">0</tspan></text>
<text class="mono" transform="translate(16.60 258.90) scale(0.8065 1)" x="0.00 9.71" font-size="15.5" style="fill:#444">4<tspan font-family="Liberation Sans" font-size="15.27">0</tspan></text>
<text class="mono" transform="translate(16.60 322.15) scale(0.8065 1)" x="0.00 9.71" font-size="15.5" style="fill:#444">3<tspan font-family="Liberation Sans" font-size="15.27">0</tspan></text>
<text class="mono" transform="translate(16.60 385.40) scale(0.8065 1)" x="0.00 9.71" font-size="15.5" style="fill:#444">2<tspan font-family="Liberation Sans" font-size="15.27">0</tspan></text>
<text class="mono" transform="translate(16.60 448.65) scale(0.8065 1)" x="0.00 9.71" font-size="15.5" style="fill:#444">1<tspan font-family="Liberation Sans" font-size="15.27">0</tspan></text>
<text class="mono" transform="translate(24.00 511.90) scale(0.8065 1)" x="0.41" font-size="15.5" style="fill:#444"><tspan font-family="Liberation Sans" font-size="15.27">0</tspan></text>
<text class="mono" transform="translate(65.92 533.80) scale(0.7996 1)" x="0.00 9.48 18.96 28.44 37.92 47.40 56.88 66.36 75.84 85.73 94.80 104.28" font-size="15.8" style="fill:#444">AUG. 1, 2<tspan font-family="Liberation Sans" font-size="15.56">0</tspan>24</text>
<text class="mono" transform="translate(322.37 533.80) scale(0.7996 1)" x="0.00 9.48 18.96 28.44 37.92 47.40 56.88" font-size="15.8" style="fill:#444">SEPT. 1</text>
<text class="mono" transform="translate(556.56 533.80) scale(0.7996 1)" x="0.00 9.48 18.96 28.44 37.92 47.40" font-size="15.8" style="fill:#444">OCT. 1</text>
</svg>
<div class="frame"></div>
</body></html>
